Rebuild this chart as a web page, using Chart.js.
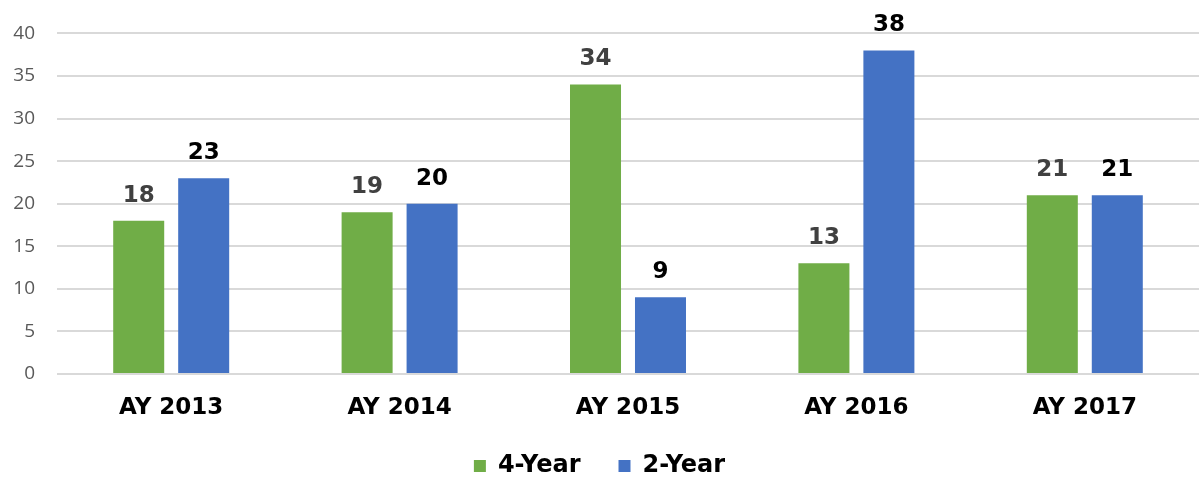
<!DOCTYPE html>
<html>
<head>
<meta charset="utf-8">
<script src="https://cdn.jsdelivr.net/npm/chart.js@4.4.0/dist/chart.umd.min.js"></script>
<style>
  html, body { margin: 0; padding: 0; background: #fff; }
  #wrap { width: 1199px; height: 483px; }
</style>
</head>
<body>
<div id="wrap"><canvas id="mycanvas" width="1199" height="483"></canvas></div>
<script>
var years = ["AY 2013", "AY 2014", "AY 2015", "AY 2016", "AY 2017"];
var fourYear = [18, 19, 34, 13, 21];
var twoYear = [23, 20, 9, 38, 21];
var yTicks = [0, 5, 10, 15, 20, 25, 30, 35, 40];

var boldFont = "'DejaVu Sans', Verdana, sans-serif";

// draws the value above each bar
var barLabels = {
    id: "barLabels",
    afterDatasetsDraw: function(chart) {
        var ctx = chart.ctx;
        ctx.save();
        ctx.font = "bold 23px " + boldFont;
        ctx.textAlign = "center";
        ctx.textBaseline = "alphabetic";
        chart.data.datasets.forEach(function(ds, i) {
            var meta = chart.getDatasetMeta(i);
            ctx.fillStyle = ds.labelColor;
            meta.data.forEach(function(bar, j) {
                ctx.fillText(ds.data[j], bar.x, bar.y - 19);
            });
        });
        ctx.restore();
    }
};

var chartdata = {
    labels: years,
    datasets: [
        {
            label: "4-Year",
            backgroundColor: "#70AD47",
            labelColor: "#404040",
            data: fourYear,
            categoryPercentage: 0.569,
            barPercentage: 0.785
        },
        {
            label: "2-Year",
            backgroundColor: "#4472C4",
            labelColor: "#000000",
            data: twoYear,
            categoryPercentage: 0.569,
            barPercentage: 0.785
        }
    ]
};

var ctx = document.getElementById("mycanvas");

var BarGraph = new Chart(ctx, {
    type: "bar",
    data: chartdata,
    plugins: [barLabels],
    options: {
        responsive: false,
        animation: false,
        layout: { padding: { top: 29, right: 0, bottom: -5, left: 0 } },
        plugins: {
            tooltip: { enabled: false },
            legend: {
                position: "bottom",
                labels: {
                    boxWidth: 12,
                    boxHeight: 12,
                    padding: 38,
                    color: "#000",
                    font: { family: boldFont, size: 24, weight: "bold" }
                }
            }
        },
        scales: {
            x: {
                grid: { display: false, drawTicks: false },
                border: { display: false },
                ticks: {
                    color: "#000",
                    padding: 20,
                    font: { family: boldFont, size: 23, weight: "bold" }
                },
                afterFit: function(scale) { scale.height = 42; }
            },
            y: {
                min: 0,
                max: 40,
                afterBuildTicks: function(scale) {
                    scale.ticks = yTicks.map(function(v) { return { value: v }; });
                },
                grid: { color: "#d9d9d9", lineWidth: 2, drawTicks: false },
                border: { display: false },
                ticks: {
                    color: "#595959",
                    padding: 22,
                    font: { family: "'Open Sans', sans-serif", size: 19 }
                },
                afterFit: function(scale) { scale.width = 57; }
            }
        }
    }
});
</script>
</body>
</html>
